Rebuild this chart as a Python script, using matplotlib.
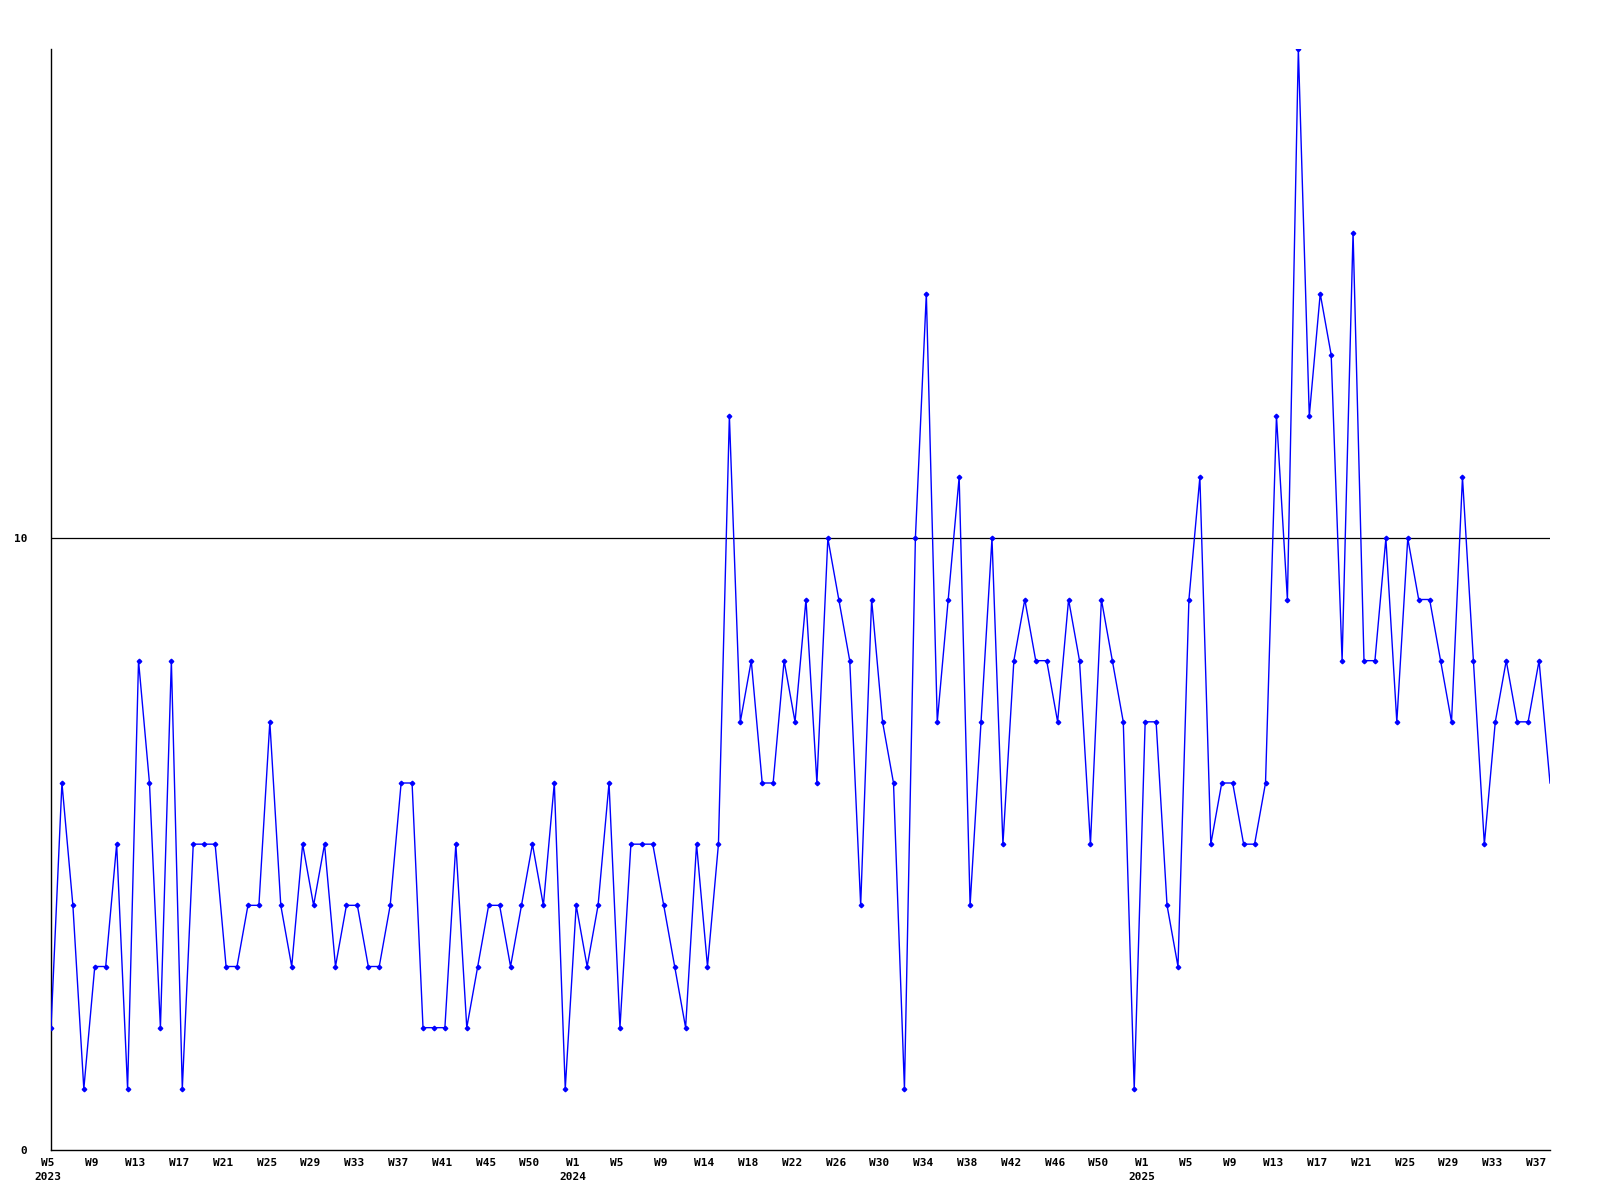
import numpy as np
import matplotlib
matplotlib.use('Agg')
import matplotlib.pyplot as plt
from matplotlib.transforms import ScaledTranslation

# weekly counts, 2023 W5 .. 2025 W38
values = [2, 6, 4, 1, 3, 3, 5, 1, 8, 6,
          2, 8, 1, 5, 5, 5, 3, 3, 4, 4,
          7, 4, 3, 5, 4, 5, 3, 4, 4, 3,
          3, 4, 6, 6, 2, 2, 2, 5, 2, 3,
          4, 4, 3, 4, 5, 4, 6, 1, 4, 3,
          4, 6, 2, 5, 5, 5, 4, 3, 2, 5,
          3, 5, 12, 7, 8, 6, 6, 8, 7, 9,
          6, 10, 9, 8, 4, 9, 7, 6, 1, 10,
          14, 7, 9, 11, 4, 7, 10, 5, 8, 9,
          8, 8, 7, 9, 8, 5, 9, 8, 7, 1,
          7, 7, 4, 3, 9, 11, 5, 6, 6, 5,
          5, 6, 12, 9, 18, 12, 14, 13, 8, 15,
          8, 8, 10, 7, 10, 9, 9, 8, 7, 11,
          8, 5, 7, 8, 7, 7, 8, 6]

week_labels = ['W5', 'W9', 'W13', 'W17', 'W21', 'W25', 'W29', 'W33', 'W37', 'W41', 'W45', 'W50',
               'W1', 'W5', 'W9', 'W14', 'W18', 'W22', 'W26', 'W30', 'W34', 'W38', 'W42', 'W46', 'W50',
               'W1', 'W5', 'W9', 'W13', 'W17', 'W21', 'W25', 'W29', 'W33', 'W37']
year_labels = {0: '2023', 12: '2024', 25: '2025'}

x = np.arange(len(values))
tick_pos = x[::4]

fig = plt.figure(figsize=(16, 12), dpi=100)
ax = fig.add_axes([51 / 1600, 50 / 1200, 1499 / 1600, 1101 / 1200])

ax.plot(x, values, color='#0000ff', lw=1.0, marker='D', ms=2.3,
        markevery=list(range(len(values) - 1)), zorder=3)
ax.axhline(10, color='black', lw=0.9, zorder=2)

ax.set_xlim(0, len(values) - 1)
ax.set_ylim(0, 18)

for s in ['top', 'right']:
    ax.spines[s].set_visible(False)
for s in ['left', 'bottom']:
    ax.spines[s].set_color('black')
    ax.spines[s].set_linewidth(1.0)

ax.set_yticks([0, 10])
ax.set_yticklabels(['0', '10'], family='DejaVu Sans Mono', weight='bold', fontsize=8)
ax.tick_params(axis='y', length=0, pad=17)

labels = [w + ('\n' + year_labels[i] if i in year_labels else '') for i, w in enumerate(week_labels)]
ax.set_xticks(tick_pos)
ax.set_xticklabels(labels, family='DejaVu Sans Mono', weight='bold', fontsize=8,
                   ha='center', multialignment='center', linespacing=1.45)
ax.tick_params(axis='x', length=0, pad=6)
offset = ScaledTranslation(-3 / 100, 0, fig.dpi_scale_trans)
for lab in ax.get_xticklabels():
    lab.set_transform(lab.get_transform() + offset)

fig.savefig('out.png', dpi=100)
